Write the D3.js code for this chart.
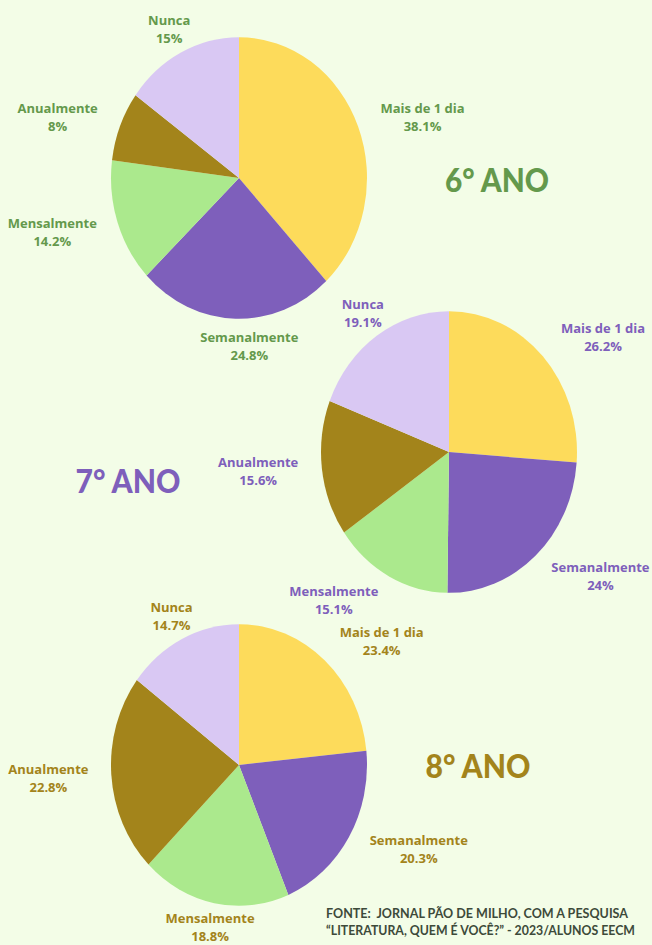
<!DOCTYPE html>
<html>
<head>
<meta charset="utf-8">
<script src="https://cdn.jsdelivr.net/npm/d3@7"></script>
<style>
  html, body { margin: 0; padding: 0; background: #f3fde7; }
  svg { display: block; }
</style>
</head>
<body>
<div id="chart"></div>
<script>
// dados da pesquisa
const categorias = ['Mais de 1 dia', 'Semanalmente', 'Mensalmente', 'Anualmente', 'Nunca'];
const valores6 = [38.1, 24.8, 14.2, 8, 15];
const valores7 = [26.2, 24, 15.1, 15.6, 19.1];
const valores8 = [23.4, 20.3, 18.8, 22.8, 14.7];
const titulos = ['6° ANO', '7° ANO', '8° ANO'];
const fonte = ['FONTE:  JORNAL PÃO DE MILHO, COM A PESQUISA', '“LITERATURA, QUEM É VOCÊ?” - 2023/ALUNOS EECM'];

const width = 652, height = 945;
const raio = 128, ky = 1.1, raioLabel = 165;

const cores = d3.scaleOrdinal()
  .domain(categorias)
  .range(['#fddb5b', '#7e5fbb', '#abe98d', '#a3841b', '#d9c8f3']);

// layout de cada grafico (posicoes e ajustes dos rotulos)
const graficos = [
  { valores: valores6, titulo: titulos[0], cx: 239, cy: 178, cor: '#64994c', tx: 497, ty: 192, tw: 104,
    ajustes: [[30, 6], [15, -13], [-30, -2], [-28, 7], [5, 13]] },
  { valores: valores7, titulo: titulos[1], cx: 449, cy: 452, cor: '#7e5fbb', tx: 128, ty: 493, tw: 105,
    ajustes: [[33, 9], [40, -9], [-38, -12], [-27, -2], [7, 11]] },
  { valores: valores8, titulo: titulos[2], cx: 239, cy: 765, cor: '#a3841b', tx: 478, ty: 778, tw: 105,
    ajustes: [[32, 11], [38, -8], [3, -16], [-26, 1], [6, 13.5]] }
];

const svg = d3.select('#chart')
  .append('svg')
  .attr('width', width)
  .attr('height', height);

svg.append('rect')
  .attr('width', width)
  .attr('height', height)
  .attr('fill', '#f3fde7');

const pie = d3.pie()
  .sort(null)
  .value(d => d.valor);

const arc = d3.arc()
  .innerRadius(0)
  .outerRadius(raio);

const arcLabel = d3.arc()
  .innerRadius(raioLabel)
  .outerRadius(raioLabel);

graficos.forEach(g => {
  const dados = categorias.map((c, i) => ({ categoria: c, valor: g.valores[i] }));
  const fatias = pie(dados);

  // fatias (elipse levemente esticada na vertical, como no original)
  svg.append('g')
    .attr('transform', `translate(${g.cx},${g.cy}) scale(1,${ky})`)
    .selectAll('path')
    .data(fatias)
    .enter()
    .append('path')
    .attr('d', arc)
    .attr('fill', d => cores(d.data.categoria));

  // rotulos
  const labels = svg.append('g')
    .selectAll('text')
    .data(fatias)
    .enter()
    .append('text')
    .attr('transform', (d, i) => {
      const [x, y] = arcLabel.centroid(d);
      const aj = g.ajustes[i];
      return `translate(${g.cx + x + aj[0]},${g.cy + y * ky + aj[1]})`;
    })
    .attr('text-anchor', 'middle')
    .style('font-family', '"Open Sans", "Noto Sans", sans-serif')
    .style('font-weight', 700)
    .style('font-size', '13px')
    .attr('fill', g.cor);

  labels.append('tspan')
    .attr('x', 0)
    .attr('y', -4.5)
    .text(d => d.data.categoria);

  labels.append('tspan')
    .attr('x', 0)
    .attr('y', 13.5)
    .text(d => d.data.valor + '%');

  // titulo do ano
  svg.append('text')
    .attr('x', g.tx)
    .attr('y', g.ty)
    .attr('text-anchor', 'middle')
    .attr('textLength', g.tw)
    .attr('lengthAdjust', 'spacingAndGlyphs')
    .style('font-family', 'Lato, sans-serif')
    .style('font-weight', 900)
    .style('font-size', '33px')
    .attr('fill', g.cor)
    .text(g.titulo);
});

// fonte
svg.append('g')
  .selectAll('text')
  .data(fonte)
  .enter()
  .append('text')
  .attr('x', 326)
  .attr('y', (d, i) => 918 + i * 17)
  .attr('textLength', (d, i) => i === 0 ? 302 : 309)
  .attr('lengthAdjust', 'spacingAndGlyphs')
  .style('white-space', 'pre')
  .style('font-family', 'Lato, sans-serif')
  .style('font-weight', 700)
  .style('font-size', '13px')
  .attr('fill', '#3d4a3a')
  .text(d => d);
</script>
</body>
</html>
